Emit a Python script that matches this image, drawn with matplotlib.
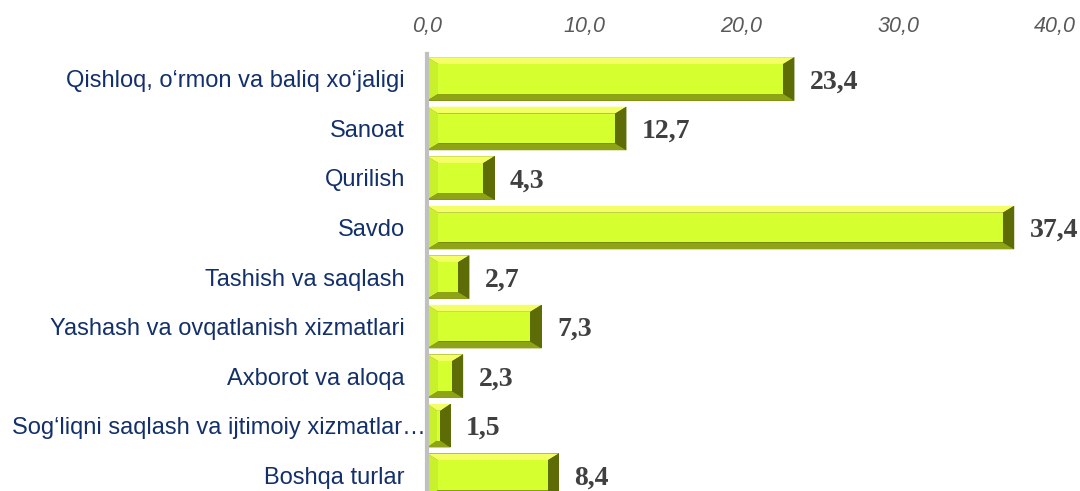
import matplotlib
matplotlib.use("Agg")
import matplotlib.pyplot as plt
from matplotlib.patches import Polygon
from matplotlib.transforms import ScaledTranslation

categories = [
    "Qishloq, o‘rmon va baliq xo‘jaligi",
    "Sanoat",
    "Qurilish",
    "Savdo",
    "Tashish va saqlash",
    "Yashash va ovqatlanish xizmatlari",
    "Axborot va aloqa",
    "Sog‘liqni saqlash va ijtimoiy xizmatlar…",
    "Boshqa turlar",
]
values = [23.4, 12.7, 4.3, 37.4, 2.7, 7.3, 2.3, 1.5, 8.4]
x_ticks = [0, 10, 20, 30, 40]

# bevel colours (Excel style 3D bar)
FACE = '#d6ff30'
TOP = '#f4ff66'
LEFT = '#c8f02c'
BOTTOM = '#8ea416'
RIGHT = '#5e6c08'

fig = plt.figure(figsize=(10.8, 4.91), dpi=100)
ax = fig.add_axes([0.3954, -0.0183, 0.5815, 0.908])

h = 0.88
# base bar, the bevels are drawn on top of it
ax.barh(range(len(values)), values, height=h, color=RIGHT, edgecolor='none')

for i, v in enumerate(values):
    top, bot = i - h / 2, i + h / 2   # y axis is inverted later
    bx = min(0.72, v / 2.3)
    by = 0.14
    ax.add_patch(Polygon([(0, bot), (0, top), (bx, top + by), (bx, bot - by)],
                         closed=True, facecolor=LEFT, edgecolor='none'))
    ax.add_patch(Polygon([(0, top), (v, top), (v - bx, top + by), (bx, top + by)],
                         closed=True, facecolor=TOP, edgecolor='none'))
    ax.add_patch(Polygon([(0, bot), (v, bot), (v - bx, bot - by), (bx, bot - by)],
                         closed=True, facecolor=BOTTOM, edgecolor='none'))
    ax.add_patch(Polygon([(v, bot), (v, top), (v - bx, top + by), (v - bx, bot - by)],
                         closed=True, facecolor=RIGHT, edgecolor='none'))
    ax.add_patch(Polygon([(bx, top + by), (v - bx, top + by), (v - bx, bot - by), (bx, bot - by)],
                         closed=True, facecolor=FACE, edgecolor='none'))

for i, v in enumerate(values):
    ax.annotate(f'{v:.1f}'.replace('.', ','), xy=(v, i), xytext=(11, -2),
                textcoords='offset points', ha='left', va='center',
                fontsize=20, fontweight='bold', family='Liberation Serif',
                color='#404040')

ax.set_xlim(0, 40)
ax.set_ylim(len(values) - 0.5, -0.5)

ax.xaxis.tick_top()
ax.set_xticks(x_ticks)
ax.set_xticklabels([f'{t:.1f}'.replace('.', ',') for t in x_ticks],
                   fontsize=15.5, style='italic', family='Liberation Sans',
                   color='#595959')
ax.tick_params(axis='x', length=0, pad=12)

ax.set_yticks(range(len(categories)))
ax.set_yticklabels(categories, fontsize=17, family='Liberation Sans', color='#13306b')
ax.tick_params(axis='y', length=0, pad=16)
# the long label sits closer to the axis in the original
lbl = ax.get_yticklabels()[7]
lbl.set_transform(lbl.get_transform() + ScaledTranslation(0.21, 0, fig.dpi_scale_trans))

for s in ['top', 'right', 'bottom']:
    ax.spines[s].set_visible(False)
ax.spines['left'].set_color('#c0c0c0')
ax.spines['left'].set_linewidth(3)
ax.spines['left'].set_zorder(5)

fig.savefig('out.png', dpi=100)
